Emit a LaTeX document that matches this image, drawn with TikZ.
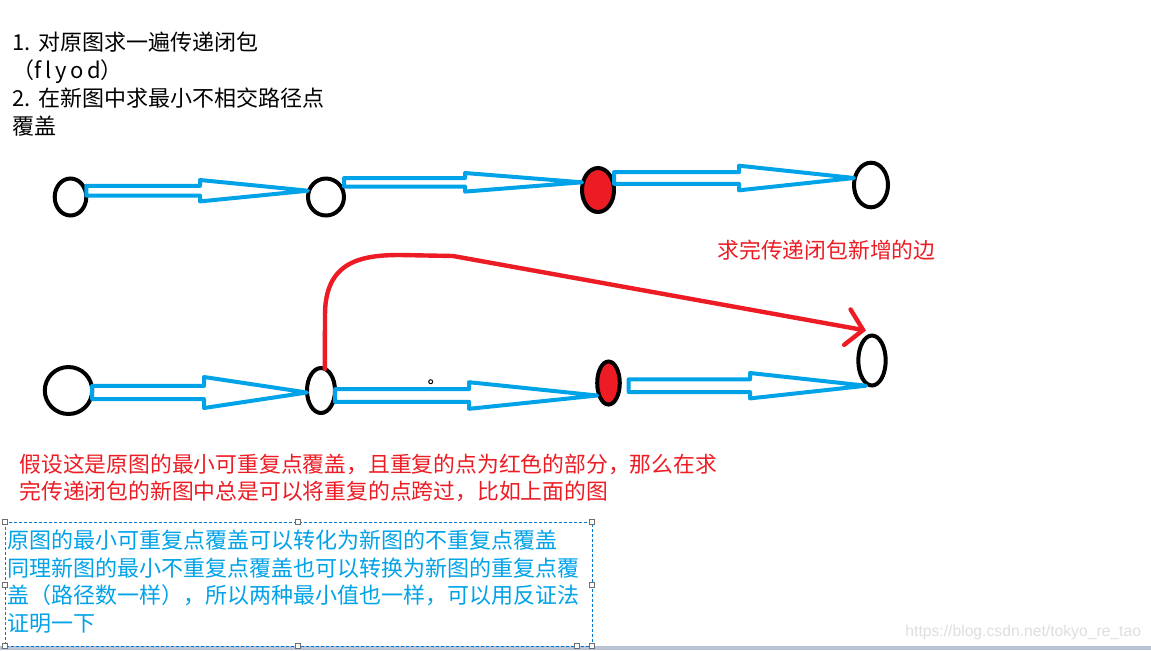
\documentclass[tikz,border=0pt]{standalone}
\usepackage{fontspec}
\setmainfont{Liberation Sans}
\newfontfamily\cjk{Noto Sans CJK SC}
\usetikzlibrary{shapes.geometric,arrows.meta}
\definecolor{paintblue}{RGB}{0,162,232}
\definecolor{paintred}{RGB}{237,28,36}
\definecolor{boxblue}{RGB}{0,120,215}
\definecolor{handlegray}{RGB}{110,110,110}
\definecolor{barblue}{RGB}{185,195,214}
\definecolor{markgray}{RGB}{222,222,222}
\tikzset{
  vertex/.style={ellipse, draw=black, line width=2pt, inner sep=0pt, outer sep=0pt},
  fatline/.style={draw=paintblue, line width=2pt, line join=round},
  newedge/.style={draw=paintred, line width=2.2pt, line cap=round, line join=round,
    -{Straight Barb[length=8pt,width=18pt,line cap=round]}},
  note/.style={font=\cjk\fontsize{11pt}{13.7pt}\selectfont, align=left, inner sep=0pt, anchor=north west},
  handle/.style={draw=handlegray, fill=white, line width=0.4pt, minimum size=2.6pt, inner sep=0pt},
}
% tail anchor, tip anchor, y, shaft half width, head base x, head half width
\newcommand{\fatarrow}[6]{%
  \draw[fatline] (#1 |- 0,#3-#4) -- (#5,#3-#4) -- (#5,#3-#6) -- (#2 |- 0,#3)
    -- (#5,#3+#6) -- (#5,#3+#4) -- (#1 |- 0,#3+#4) -- cycle;}
\newcommand{\stepno}[1]{\makebox[1.2em][l]{#1}}
\begin{document}
\begin{tikzpicture}[x=0.5pt,y=-0.5pt]
\useasboundingbox[fill=white] (0,0) rectangle (1151,650);
\fill[barblue] (0,646) rectangle (1151,650);

\node[note, font=\cjk\fontsize{11pt}{14pt}\selectfont] (steps) at (12,31)
  {\stepno{1.}对原图求一遍传递闭包\\（f\,l\,y\,o\,d）\\\stepno{2.}在新图中求最小不相交路径点\\覆盖};

% original graph
\node[vertex, minimum width=15.8pt, minimum height=18.5pt] (a1) at (70.5,197) {};
\node[vertex, minimum width=18pt, minimum height=18.5pt] (b1) at (326,197) {};
\node[vertex, fill=paintred, minimum width=16pt, minimum height=22pt] (c1) at (598,190) {};
\node[vertex, minimum width=17pt, minimum height=22.3pt] (d1) at (871,185) {};
\fatarrow{a1.east}{b1.west}{190.7}{4.8}{200}{10.7}
\fatarrow{b1.east}{c1.west}{182.3}{4.2}{465}{9.3}
\fatarrow{c1.east}{d1.west}{178}{5.8}{739}{12.3}

\node[anchor=west, inner sep=0pt, text=paintred, font=\cjk\fontsize{10.9pt}{13pt}\selectfont]
  (newlabel) at (717,250) {求完传递闭包新增的边};

% graph after the closure
\node[vertex, minimum width=23.7pt, minimum height=23.5pt] (a2) at (68.5,390.5) {};
\node[vertex, minimum width=14pt, minimum height=22.5pt] (b2) at (321,390.5) {};
\node[vertex, fill=paintred, minimum width=11.3pt, minimum height=21.5pt] (c2) at (608.5,383) {};
\node[vertex, minimum width=13.7pt, minimum height=25pt] (d2) at (872,360.5) {};
\coordinate (c2out) at ([xshift=4.4pt]c2.east);
\coordinate (d2tip) at ([shift={(-3pt,2.5pt)}]d2.north);
\fatarrow{a2.east}{b2.west}{392.5}{6.6}{204}{15.5}
\fatarrow{b2.east}{c2.west}{395.5}{6.3}{469}{13.3}
\fatarrow{c2out}{d2.255}{385.7}{6.3}{750}{12.7}
\draw[newedge] (b2.80) -- (325,315) .. controls (325,262) and (360,255) .. (400,255)
  -- (453,256) -- (d2tip);
\draw[line width=0.5pt] (430.7,381.7) circle[radius=1pt];

\node[note, text=paintred, font=\cjk\fontsize{10.9pt}{13.5pt}\selectfont] (reason) at (19,454)
  {假设这是原图的最小可重复点覆盖，且重复的点为红色的部分，那么在求\\完传递闭包的新图中总是可以将重复的点跨过，比如上面的图};

% text box with its handles
\draw[boxblue, line width=0.5pt, dash pattern=on 1.5pt off 1pt] (5,522) rectangle (592,646);
\node[note, text=paintblue] (proof) at (7,530)
  {原图的最小可重复点覆盖可以转化为新图的不重复点覆盖\\同理新图的最小不重复点覆盖也可以转换为新图的重复点覆\\盖（路径数一样），所以两种最小值也一样，可以用反证法\\证明一下};
\foreach \hx/\hy in {5/522,298/522,592/522,5/585,592/585,5/646,298/646,577/646,592/646}
  \node[handle] at (\hx,\hy) {};

\node[anchor=west, inner sep=0pt, text=markgray, font=\fontsize{7.85pt}{9pt}\selectfont]
  (watermark) at (905,632) {https://blog.csdn.net/tokyo\_re\_tao};
\end{tikzpicture}
\end{document}
